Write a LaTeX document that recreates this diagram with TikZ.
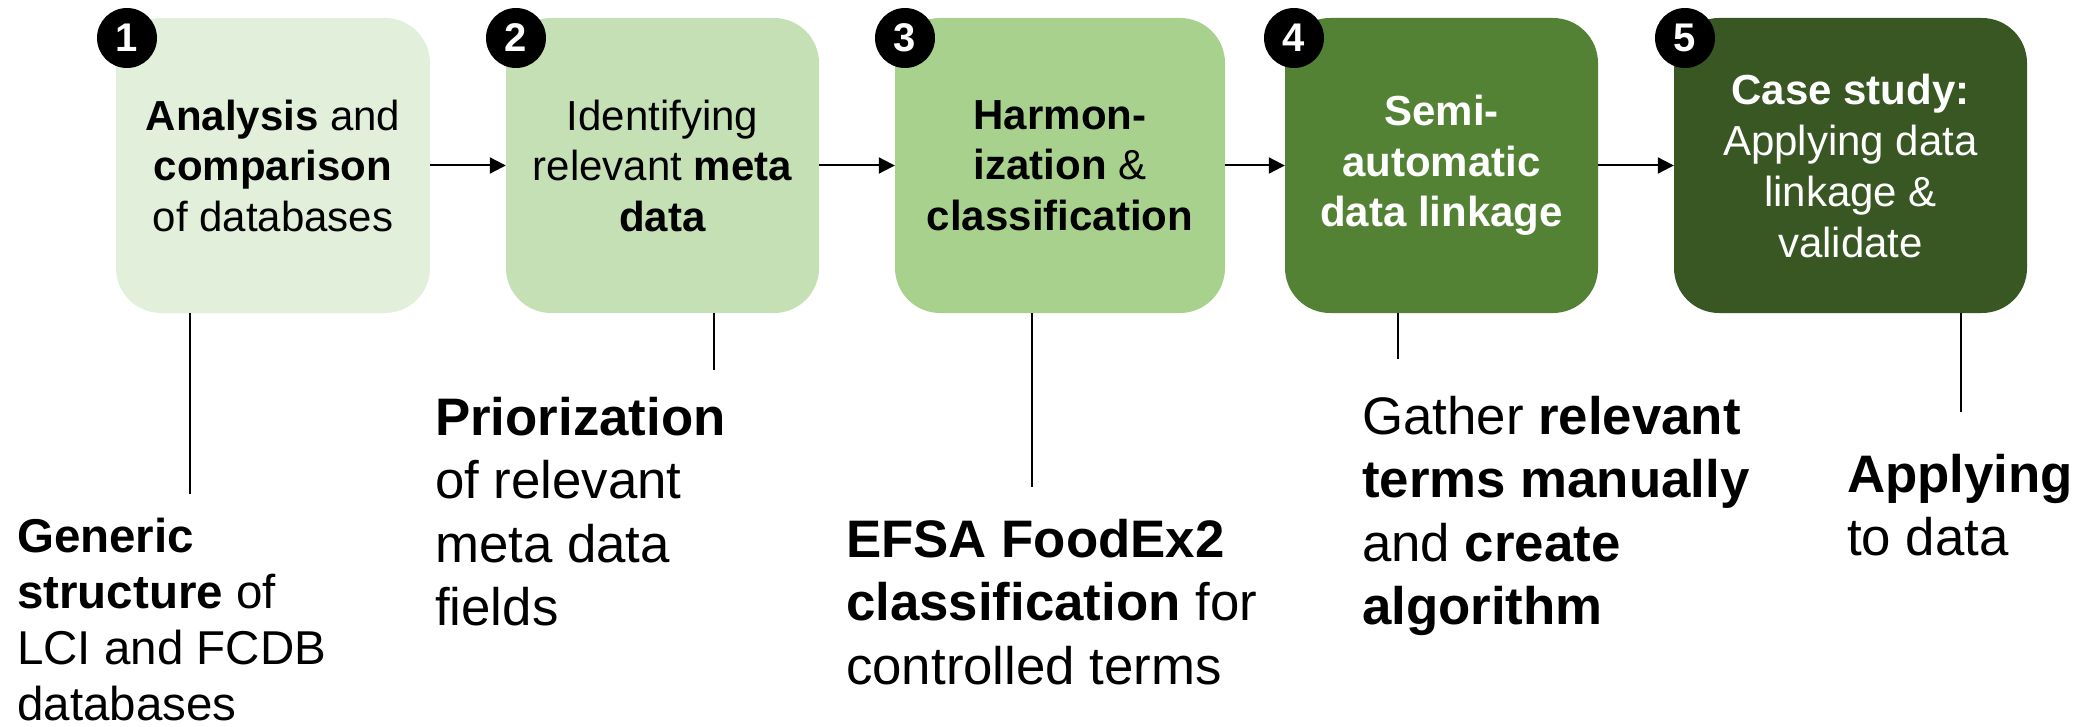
\documentclass[tikz,border=0pt]{standalone}
\usepackage{fontspec}
\setmainfont{Liberation Sans}
\usetikzlibrary{arrows.meta}
\definecolor{gA}{HTML}{E2EFDA}
\definecolor{gB}{HTML}{C5E0B4}
\definecolor{gC}{HTML}{A9D18E}
\definecolor{gD}{HTML}{548235}
\definecolor{gE}{HTML}{385723}
\tikzset{
  stepbox/.style={rounded corners=45pt, minimum height=295pt, inner sep=0pt, align=center,
    font=\fontsize{42}{50.5}\selectfont},
  numdot/.style={circle, fill=black, minimum size=60pt, inner sep=0pt, text=white,
    font=\fontsize{40}{40}\selectfont\bfseries},
  flowarrow/.style={line width=2pt, -{Triangle[length=16pt,width=16pt]}},
  leader/.style={line width=1.5pt},
  botlabel/.style={anchor=north west, inner sep=0pt, align=left,
    font=\fontsize{52.8}{63.5}\selectfont},
}
\begin{document}
\begin{tikzpicture}[x=1pt,y=-1pt]
\useasboundingbox (0,0) rectangle (2085,727);
% boxes
\node[stepbox, fill=gA, minimum width=314pt] (b1) at (273,165.5)
  {\textbf{Analysis} and\\\textbf{comparison}\\of databases};
\node[stepbox, fill=gB, minimum width=313pt] (b2) at (662.5,165.5)
  {Identifying\\relevant \textbf{meta}\\\textbf{data}};
\node[stepbox, fill=gC, minimum width=330pt] (b3) at (1060,165.5)
  {\textbf{Harmon-}\\\textbf{ization} \&\\\textbf{classification}};
\node[stepbox, fill=gD, minimum width=313pt, text=white] (b4) at (1441.5,165.5)
  {\textbf{Semi-}\\\textbf{automatic}\\\textbf{data linkage}};
\node[stepbox, fill=gE, minimum width=353pt, text=white,
  font=\fontsize{42}{51}\selectfont] (b5) at (1850.5,165.5)
  {\textbf{Case study:}\\Applying data\\linkage \&\\validate};
% number badges
\node[numdot] (n1) at (127,38) {1};
\node[numdot] (n2) at (516,38) {2};
\node[numdot] (n3) at (905,38) {3};
\node[numdot] (n4) at (1294,38) {4};
\node[numdot] (n5) at (1685,38) {5};
% arrows
\draw[flowarrow] (b1.east) -- (b2.west);
\draw[flowarrow] (b2.east) -- (b3.west);
\draw[flowarrow] (b3.east) -- (b4.west);
\draw[flowarrow] (b4.east) -- (b5.west);
% bottom labels
\node[botlabel, font=\fontsize{47.5}{56}\selectfont] (l1) at (17,518)
  {\textbf{Generic}\\\textbf{structure} of\\LCI and FCDB\\databases};
\node[botlabel] (l2) at (435,397)
  {\textbf{Priorization}\\of relevant\\meta data\\fields};
\node[botlabel] (l3) at (846,519)
  {\textbf{EFSA FoodEx2}\\\textbf{classification} for\\controlled terms};
\node[botlabel] (l4) at (1362,396)
  {Gather \textbf{relevant}\\\textbf{terms manually}\\and \textbf{create}\\\textbf{algorithm}};
\node[botlabel] (l5) at (1847,454)
  {\textbf{Applying}\\to data};
% leader lines
\coordinate (e1) at (190,494);
\coordinate (e2) at (714,370);
\coordinate (e3) at (1032,487);
\coordinate (e4) at (1398,359);
\coordinate (e5) at (1961,412);
\draw[leader] (b1.south -| e1) -- (e1);
\draw[leader] (b2.south -| e2) -- (e2);
\draw[leader] (b3.south -| e3) -- (e3);
\draw[leader] (b4.south -| e4) -- (e4);
\draw[leader] (b5.south -| e5) -- (e5);
\end{tikzpicture}
\end{document}
